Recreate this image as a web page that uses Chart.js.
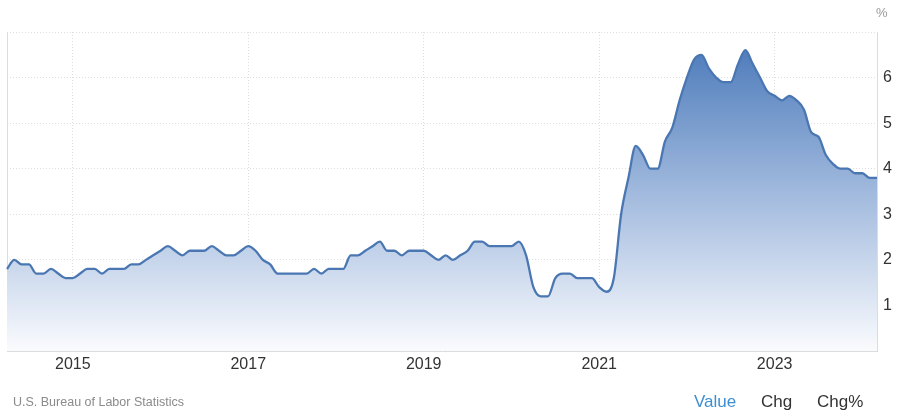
<!DOCTYPE html>
<html>
<head>
<meta charset="utf-8">
<script src="https://cdn.jsdelivr.net/npm/chart.js@4.4.1/dist/chart.umd.min.js"></script>
<style>
    html, body { margin: 0; padding: 0; background: #fff; }
    #wrap { position: relative; width: 900px; height: 416px; font-family: "Liberation Sans", Arial, sans-serif; }
    #chart { position: absolute; left: 0; top: 0; }
    .unit { position: absolute; left: 876px; top: 5px; font-size: 13px; color: #999; }
    .source { position: absolute; left: 13px; top: 395px; font-size: 12.5px; color: #8a8a8a; }
    .tabs { position: absolute; top: 392px; font-size: 17px; color: #333; }
    .tabs.active { color: #3d8fd1; }
</style>
</head>
<body>
<div id="wrap">
    <canvas id="chart" width="900" height="416"></canvas>
    <div class="unit">%</div>
    <div class="source">U.S. Bureau of Labor Statistics</div>
    <div class="tabs active" style="left:694px">Value</div>
    <div class="tabs" style="left:761px">Chg</div>
    <div class="tabs" style="left:817px">Chg%</div>
</div>
<script>
// Monthly values, first point is April 2014
const startYear = 2014;
const startMonth = 4;
const v2014 = [1.8, 2.0, 1.9, 1.9, 1.7, 1.7, 1.8, 1.7, 1.6];
const v2015 = [1.6, 1.7, 1.8, 1.8, 1.7, 1.8, 1.8, 1.8, 1.9, 1.9, 2.0, 2.1];
const v2016 = [2.2, 2.3, 2.2, 2.1, 2.2, 2.2, 2.2, 2.3, 2.2, 2.1, 2.1, 2.2];
const v2017 = [2.3, 2.2, 2.0, 1.9, 1.7, 1.7, 1.7, 1.7, 1.7, 1.8, 1.7, 1.8];
const v2018 = [1.8, 1.8, 2.1, 2.1, 2.2, 2.3, 2.4, 2.2, 2.2, 2.1, 2.2, 2.2];
const v2019 = [2.2, 2.1, 2.0, 2.1, 2.0, 2.1, 2.2, 2.4, 2.4, 2.3, 2.3, 2.3];
const v2020 = [2.3, 2.4, 2.1, 1.4, 1.2, 1.2, 1.6, 1.7, 1.7, 1.6, 1.6, 1.6];
const v2021 = [1.4, 1.3, 1.6, 3.0, 3.8, 4.5, 4.3, 4.0, 4.0, 4.6, 4.9, 5.5];
const v2022 = [6.0, 6.4, 6.5, 6.2, 6.0, 5.9, 5.9, 6.3, 6.6, 6.3, 6.0, 5.7];
const v2023 = [5.6, 5.5, 5.6, 5.5, 5.3, 4.8, 4.7, 4.3, 4.1, 4.0, 4.0, 3.9];
const v2024 = [3.9, 3.8, 3.8];

const tickYears = ['2015', '2017', '2019', '2021', '2023'];
const yTicks = [1, 2, 3, 4, 5, 6];

const values = [].concat(v2014, v2015, v2016, v2017, v2018, v2019, v2020, v2021, v2022, v2023, v2024);

// month labels like "2015-01"
const labels = [];
for (let i = 0; i < values.length; i++) {
    const m = startMonth - 1 + i;
    const y = startYear + Math.floor(m / 12);
    const mm = (m % 12) + 1;
    labels.push(y + '-' + (mm < 10 ? '0' + mm : mm));
}

// left border of the plot
const frame = {
    id: 'frame',
    beforeDatasetsDraw(chart) {
        const a = chart.chartArea;
        const c = chart.ctx;
        c.save();
        c.strokeStyle = '#dcdcdc';
        c.lineWidth = 1;
        c.beginPath();
        c.moveTo(a.left + 0.5, a.top);
        c.lineTo(a.left + 0.5, a.bottom);
        c.stroke();
        c.restore();
    }
};

const ctx = document.getElementById('chart').getContext('2d');

new Chart(ctx, {
    type: 'line',
    data: {
        labels: labels,
        datasets: [{
            data: values,
            borderColor: '#4a77b2',
            borderWidth: 2.3,
            pointRadius: 0,
            cubicInterpolationMode: 'monotone',
            fill: 'start',
            backgroundColor: function(context) {
                const area = context.chart.chartArea;
                if (!area) return 'rgba(74,122,186,0.5)';
                const g = context.chart.ctx.createLinearGradient(0, area.top, 0, area.bottom);
                g.addColorStop(0, 'rgba(70,118,184,1)');
                g.addColorStop(0.5, 'rgba(160,185,221,1)');
                g.addColorStop(1, 'rgba(250,251,254,1)');
                return g;
            }
        }]
    },
    options: {
        responsive: false,
        animation: false,
        layout: { padding: { left: 7, top: 32, right: 0, bottom: 0 } },
        plugins: {
            legend: { display: false },
            tooltip: { enabled: false }
        },
        scales: {
            x: {
                grid: {
                    color: '#dedede',
                    drawTicks: false
                },
                border: { display: true, color: '#dcdcdc', dash: [1, 2] },
                ticks: {
                    autoSkip: false,
                    maxRotation: 0,
                    padding: 4,
                    color: '#333',
                    font: { family: 'Liberation Sans', size: 16 },
                    callback: function(value) {
                        const lab = this.getLabelForValue(value);
                        const yr = lab.slice(0, 4);
                        if (lab.slice(5) === '01' && tickYears.includes(yr)) return yr;
                        return null;
                    }
                },
                afterFit: function(scale) { scale.height = 65; }
            },
            y: {
                position: 'right',
                min: 0,
                max: 7,
                afterBuildTicks: function(scale) {
                    scale.ticks = [0].concat(yTicks, [7]).map(v => ({ value: v }));
                },
                grid: {
                    color: function(c) { return c.tick.value === 0 ? 'rgba(0,0,0,0)' : '#dedede'; },
                    drawTicks: false
                },
                border: { display: true, color: '#dcdcdc', dash: [1, 2] },
                ticks: {
                    padding: 6,
                    color: '#333',
                    font: { family: 'Liberation Sans', size: 16 },
                    callback: function(value) {
                        return yTicks.includes(value) ? String(value) : '';
                    }
                },
                afterFit: function(scale) { scale.width = 23; }
            }
        }
    },
    plugins: [frame]
});
</script>
</body>
</html>
